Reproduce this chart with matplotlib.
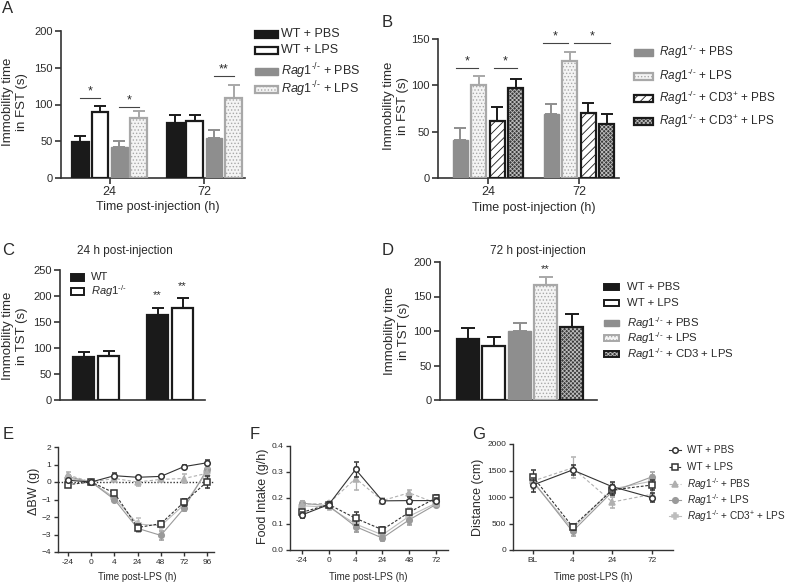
import matplotlib
matplotlib.use("Agg")
import matplotlib.pyplot as plt
from matplotlib.patches import Rectangle
from matplotlib.lines import Line2D
import numpy as np

plt.rcParams['font.family'] = ['Liberation Sans', 'DejaVu Sans']
plt.rcParams['mathtext.fontset'] = 'custom'
plt.rcParams['mathtext.rm'] = 'Liberation Sans'
plt.rcParams['mathtext.it'] = 'Liberation Sans:italic'
plt.rcParams['mathtext.bf'] = 'Liberation Sans:bold'
plt.rcParams['hatch.linewidth'] = 0.6

W, H = 787, 582
TXT = '#2a2a2a'
RAG = r"$\mathit{Rag1}^{\mathit{\text{-/-}}}$"

# ---- data ----
# A: FST, WT / Rag1 with PBS / LPS
a_groups = ["24", "72"]
a_labels = ["WT + PBS", "WT + LPS", RAG + " + PBS", RAG + " + LPS"]
a_mean = [[49, 90, 42, 81], [75, 77, 55, 109]]
a_sem = [[7.5, 8, 8, 9.5], [11, 9, 10, 17]]

# B: FST, Rag1 with CD3+ transfer
b_groups = ["24", "72"]
b_labels = [RAG + " + PBS", RAG + " + LPS", RAG + r" + CD3$^{+}$ + PBS", RAG + r" + CD3$^{+}$ + LPS"]
b_mean = [[41, 100, 62, 97], [69, 126, 70, 58]]
b_sem = [[13, 10.5, 15, 10], [11, 10, 11, 11.5]]

# C: TST 24 h
c_labels = ["WT", RAG]
c_mean = [82, 85, 163, 176]
c_sem = [10, 10, 13, 21]

# D: TST 72 h
d_labels = ["WT + PBS", "WT + LPS", RAG + " + PBS", RAG + " + LPS", RAG + " + CD3 + LPS"]
d_mean = [88, 78, 100, 167, 106]
d_sem = [17, 14, 11, 11, 18]

# E/F/G line panels
line_labels = ["WT + PBS", "WT + LPS", RAG + " + PBS", RAG + " + LPS", RAG + r" + CD3$^{+}$ + LPS"]
e_x = ["-24", "0", "4", "24", "48", "72", "96"]
e_mean = [[0.1, 0, 0.36, 0.27, 0.32, 0.88, 1.1],
          [-0.15, 0, -0.63, -2.6, -2.38, -1.15, 0.02],
          [0.4, 0, 0.2, 0.0, 0.15, 0.2, 0.5],
          [0.3, 0, -1.0, -2.65, -3.05, -1.5, 0.75],
          [0.2, 0, -0.9, -2.4, -2.5, -1.3, 0.6]]
e_sem = [[0.1, 0, 0.15, 0.08, 0.1, 0.08, 0.15],
         [0.1, 0, 0.1, 0.2, 0.15, 0.2, 0.35],
         [0.15, 0, 0.1, 0.2, 0.1, 0.25, 0.3],
         [0.1, 0, 0.15, 0.2, 0.25, 0.15, 0.2],
         [0.15, 0, 0.1, 0.35, 0.1, 0.2, 0.3]]

f_x = ["-24", "0", "4", "24", "48", "72"]
f_mean = [[0.135, 0.175, 0.31, 0.189, 0.19, 0.19],
          [0.145, 0.175, 0.122, 0.078, 0.145, 0.2],
          [0.175, 0.18, 0.275, 0.19, 0.22, 0.18],
          [0.18, 0.17, 0.09, 0.046, 0.116, 0.175],
          [0.17, 0.165, 0.1, 0.058, 0.13, 0.18]]
f_sem = [[0.01, 0.01, 0.03, 0.006, 0.012, 0.01],
         [0.01, 0.01, 0.025, 0.01, 0.01, 0.01],
         [0.015, 0.01, 0.045, 0.01, 0.01, 0.01],
         [0.01, 0.01, 0.02, 0.01, 0.02, 0.01],
         [0.01, 0.01, 0.03, 0.01, 0.03, 0.01]]

g_x = ["BL", "4", "24", "72"]
g_mean = [[1226, 1510, 1195, 987],
          [1384, 440, 1132, 1226],
          [1300, 1550, 905, 1050],
          [1300, 350, 1100, 1380],
          [1280, 400, 1150, 1300]]
g_sem = [[130, 90, 80, 80],
         [130, 60, 90, 100],
         [120, 200, 120, 100],
         [120, 80, 100, 100],
         [120, 80, 120, 120]]

# ---- styles ----
bar_styles = {
    "wt_pbs": dict(fc='#1a1a1a', ec='#1a1a1a', err='#1a1a1a', hatch=None),
    "wt_lps": dict(fc='white', ec='#1a1a1a', err='#1a1a1a', hatch=None),
    "rag_pbs": dict(fc='#8e8e8e', ec='#8e8e8e', err='#8e8e8e', hatch=None),
    "rag_lps": dict(fc='#f4f4f4', ec='#a8a8a8', err='#a8a8a8', hatch='.....'),
    "cd3_pbs": dict(fc='white', ec='#1a1a1a', err='#1a1a1a', hatch='////'),
    "cd3_lps": dict(fc='#3a3a3a', ec='#1a1a1a', err='#1a1a1a', hatch='xxxxxxxx', under='#bdbdbd'),
}
line_styles = [
    dict(color='#333333', ls='-', marker='o', mfc='white', mec='#333333'),
    dict(color='#333333', ls=(0, (2.5, 1.5)), marker='s', mfc='white', mec='#333333'),
    dict(color='#b0b0b0', ls=(0, (3, 2)), marker='^', mfc='#b0b0b0', mec='#b0b0b0'),
    dict(color='#9a9a9a', ls='-', marker='o', mfc='#9a9a9a', mec='#9a9a9a'),
    dict(color='#bdbdbd', ls='-', marker='P', mfc='#bdbdbd', mec='#bdbdbd'),
]

fig = plt.figure(figsize=(W / 100, H / 100), dpi=100)


def ax_px(l, t, r, b):
    return fig.add_axes([l / W, 1 - b / H, (r - l) / W, (b - t) / H])


def ftext(x, y, s, **kw):
    kw.setdefault('color', TXT)
    return fig.text(x / W, 1 - y / H, s, **kw)


def frect(x, y, w, h, st, lw=1.2):
    xy = (x / W, 1 - (y + h) / H)
    if 'under' in st:
        # light hatch over a dark fill, then the dark outline on top
        fig.add_artist(Rectangle(xy, w / W, h / H, transform=fig.transFigure,
                                 facecolor=st['fc'], edgecolor=st['under'], hatch=st['hatch'], linewidth=0))
        fig.add_artist(Rectangle(xy, w / W, h / H, transform=fig.transFigure,
                                 facecolor='none', edgecolor=st['ec'], linewidth=lw))
        return
    r = Rectangle(xy, w / W, h / H, transform=fig.transFigure,
                  facecolor=st['fc'], edgecolor=st['ec'], hatch=st['hatch'], linewidth=lw)
    fig.add_artist(r)


def style_ax(ax, lw=1.2, ls=8, tl=4):
    for s in ['top', 'right']:
        ax.spines[s].set_visible(False)
    for s in ['left', 'bottom']:
        ax.spines[s].set_linewidth(lw)
        ax.spines[s].set_color('#333333')
    ax.tick_params(direction='out', length=tl, width=lw, colors='#333333',
                   labelsize=ls, labelcolor=TXT, pad=2)


def bars(ax, xs, means, sems, keys, width, cap):
    for x, m, s, k in zip(xs, means, sems, keys):
        st = bar_styles[k]
        lw = 1.0 if k in ('rag_pbs',) else 1.6
        if 'under' in st:
            ax.bar(x, m, width, color=st['fc'], edgecolor=st['under'], hatch=st['hatch'],
                   linewidth=0, zorder=3)
            ax.bar(x, m, width, color='none', edgecolor=st['ec'], linewidth=lw, zorder=4)
        else:
            ax.bar(x, m, width, color=st['fc'], edgecolor=st['ec'], hatch=st['hatch'],
                   linewidth=lw, zorder=3)
        ax.errorbar(x, m, yerr=[[0], [s]], fmt='none', ecolor=st['err'], elinewidth=1.4,
                    capsize=cap, capthick=1.4, zorder=2)


def sig(ax, x0, x1, y, s, fs=9):
    ax.plot([x0, x1], [y, y], color='#444444', lw=0.8, clip_on=False)
    ax.text((x0 + x1) / 2, y, s, ha='center', va='bottom', fontsize=fs, color=TXT)


# ---- A ----
axA = ax_px(61, 31, 245, 178)
style_ax(axA)
a_keys = ["wt_pbs", "wt_lps", "rag_pbs", "rag_lps"]
a_centers = [0, 4.87]
for g, c in enumerate(a_centers):
    xs = [c + i - 1.5 for i in range(4)]
    bars(axA, xs, a_mean[g], a_sem[g], a_keys, 0.85, 4.5)
axA.set_xlim(-2.49, 6.95)
axA.set_ylim(0, 200)
axA.set_yticks([0, 50, 100, 150, 200])
axA.set_xticks(a_centers)
axA.set_xticklabels(a_groups, fontsize=9)
sig(axA, -1.5, -0.5, 109, '*')
sig(axA, 0.5, 1.5, 97, '*')
sig(axA, 5.37, 6.37, 139, '**')
ftext(158, 207, "Time post-injection (h)", fontsize=9, ha='center', va='center')
ftext(15, 102, "Immobility time\nin FST (s)", fontsize=9.5, rotation=90, ha='center', va='center',
      multialignment='center')
ftext(2, 1, "A", fontsize=12, va='top')
for (y, lab, k) in zip([34, 50, 71, 89], a_labels, a_keys):
    frect(255, y - 3.5, 23, 7, bar_styles[k], lw=1.6 if k != 'rag_pbs' else 1.0)
    ftext(281, y, lab, fontsize=9, va='center')

# ---- B ----
axB = ax_px(438, 39, 619, 178)
style_ax(axB)
b_keys = ["rag_pbs", "rag_lps", "cd3_pbs", "cd3_lps"]
b_centers = [0, 4.92]
for g, c in enumerate(b_centers):
    xs = [c + i - 1.5 for i in range(4)]
    bars(axB, xs, b_mean[g], b_sem[g], b_keys, 0.81, 4.5)
axB.set_xlim(-2.7, 7.08)
axB.set_ylim(0, 150)
axB.set_yticks([0, 50, 100, 150])
axB.set_xticks(b_centers)
axB.set_xticklabels(b_groups, fontsize=9)
sig(axB, -1.75, -0.55, 119, '*')
sig(axB, 0.3, 1.55, 119, '*')
sig(axB, 2.95, 4.3, 146, '*')
sig(axB, 4.65, 6.6, 146, '*')
ftext(534, 208, "Time post-injection (h)", fontsize=9, ha='center', va='center')
ftext(396, 106, "Immobility time\nin FST (s)", fontsize=9.5, rotation=90, ha='center', va='center',
      multialignment='center')
ftext(382, 15, "B", fontsize=12, va='top')
for (y, lab, k) in zip([52, 76, 98, 121], b_labels, b_keys):
    frect(634, y - 3.5, 19, 7, bar_styles[k], lw=1.6 if k != 'rag_pbs' else 1.0)
    ftext(659, y, lab, fontsize=8.5, va='center')

# ---- C ----
axC = ax_px(60, 270, 205, 400)
style_ax(axC)
c_keys = ["wt_pbs", "wt_lps", "wt_pbs", "wt_lps"]
c_xs = [0, 1, 2.96, 3.96]
bars(axC, c_xs, c_mean, c_sem, c_keys, 0.84, 4.5)
axC.set_xlim(-0.94, 4.86)
axC.set_ylim(0, 250)
axC.set_yticks([0, 50, 100, 150, 200, 250])
axC.set_xticks([])
axC.text(c_xs[2], 193, '**', ha='center', va='bottom', fontsize=8, color=TXT)
axC.text(c_xs[3], 209, '**', ha='center', va='bottom', fontsize=8, color=TXT)
ftext(125, 251, "24 h post-injection", fontsize=8.5, ha='center', va='center')
ftext(15, 336, "Immobility time\nin TST (s)", fontsize=9.5, rotation=90, ha='center', va='center',
      multialignment='center')
ftext(2, 243, "C", fontsize=12, va='top')
for (y, lab, k) in zip([277, 291], c_labels, ["wt_pbs", "wt_lps"]):
    frect(71, y - 3.5, 13, 7, bar_styles[k], lw=1.4)
    ftext(91, y, lab, fontsize=8, va='center')

# ---- D ----
axD = ax_px(440, 262, 597, 400)
style_ax(axD)
d_keys = ["wt_pbs", "wt_lps", "rag_pbs", "rag_lps", "cd3_lps"]
d_xs = list(range(5))
bars(axD, d_xs, d_mean, d_sem, d_keys, 0.85, 5)
axD.set_xlim(-1.06, 4.98)
axD.set_ylim(0, 200)
axD.set_yticks([0, 50, 100, 150, 200])
axD.set_xticks([])
axD.text(d_xs[3], 183, '**', ha='center', va='bottom', fontsize=8, color=TXT)
ftext(538, 251, "72 h post-injection", fontsize=8.5, ha='center', va='center')
ftext(397, 331, "Immobility time\nin TST (s)", fontsize=9.5, rotation=90, ha='center', va='center',
      multialignment='center')
ftext(382, 243, "D", fontsize=12, va='top')
for (y, lab, k) in zip([287, 303, 323, 338, 354], d_labels, d_keys):
    frect(604, y - 3, 15, 6, bar_styles[k], lw=1.4 if k != 'rag_pbs' else 1.0)
    ftext(627, y, lab, fontsize=8.2, va='center')


# ---- line panels ----
def lines(ax, xs_lab, means, sems, ms=4):
    xs = np.arange(len(xs_lab))
    order = [4, 3, 2, 1, 0]
    for i in order:
        st = line_styles[i]
        ax.errorbar(xs, means[i], yerr=sems[i], color=st['color'], ls=st['ls'], lw=0.8,
                    marker=st['marker'], ms=ms, mfc=st['mfc'], mec=st['mec'], mew=1.1,
                    ecolor=st['mec'] if i < 2 else st['color'], elinewidth=0.9, capsize=1.8,
                    capthick=0.9, zorder=3 + (5 - i))
    ax.set_xticks(xs)
    ax.set_xticklabels(xs_lab)


axE = ax_px(58, 447, 214, 552)
style_ax(axE, lw=1.0, ls=6, tl=3)
axE.axhline(0, color='#333333', ls=(0, (1, 1.3)), lw=1.0, zorder=2)
lines(axE, e_x, e_mean, e_sem)
axE.set_xlim(-0.43, 6.29)
axE.set_ylim(-4, 2)
axE.set_yticks([-4, -3, -2, -1, 0, 1, 2])
ftext(137, 577, "Time post-LPS (h)", fontsize=7, ha='center', va='center')
ftext(34, 491, "\u0394BW (g)", fontsize=9, rotation=90, ha='center', va='center')
ftext(3, 427, "E", fontsize=12, va='top')

axF = ax_px(290, 446, 448, 550)
style_ax(axF, lw=1.0, ls=6, tl=3)
lines(axF, f_x, f_mean, f_sem)
axF.set_xlim(-0.45, 5.45)
axF.set_ylim(0, 0.4)
axF.set_yticks([0, 0.1, 0.2, 0.3, 0.4])
axF.set_yticklabels(["0.0", "0.1", "0.2", "0.3", "0.4"])
ftext(368, 577, "Time post-LPS (h)", fontsize=7, ha='center', va='center')
ftext(263, 496, "Food Intake (g/h)", fontsize=9, rotation=90, ha='center', va='center')
ftext(250, 427, "F", fontsize=12, va='top')

axG = ax_px(513, 444, 673, 550)
style_ax(axG, lw=1.0, ls=6, tl=3)
lines(axG, g_x, g_mean, g_sem)
axG.set_xlim(-0.5, 3.53)
axG.set_ylim(0, 2000)
axG.set_yticks([0, 500, 1000, 1500, 2000])
ftext(593, 577, "Time post-LPS (h)", fontsize=7, ha='center', va='center')
ftext(478, 497, "Distance (cm)", fontsize=9, rotation=90, ha='center', va='center')
ftext(472, 427, "G", fontsize=12, va='top')
for (y, lab, st) in zip([450, 467, 484, 500, 516], line_labels, line_styles):
    ln = Line2D([669 / W, 681 / W], [1 - y / H, 1 - y / H], transform=fig.transFigure,
                color=st['color'], ls=st['ls'], lw=0.8)
    fig.add_artist(ln)
    mk = Line2D([675 / W], [1 - y / H], transform=fig.transFigure, marker=st['marker'], ms=4,
                mfc=st['mfc'], mec=st['mec'], mew=1.1, ls='none')
    fig.add_artist(mk)
    ftext(687, y, lab, fontsize=7.2, va='center')

fig.savefig("out.png", dpi=100)
